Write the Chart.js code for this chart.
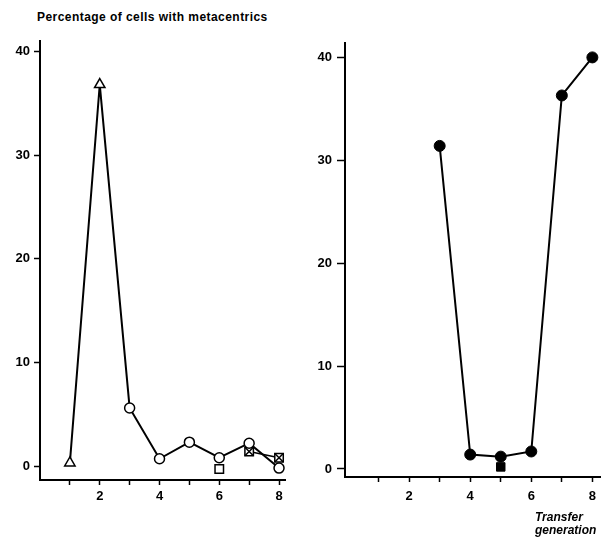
<!DOCTYPE html>
<html>
<head>
<meta charset="utf-8">
<script src="https://cdn.jsdelivr.net/npm/chart.js@4"></script>
<style>
  body { margin: 0; background: #fff; }
  #wrap { position: relative; width: 607px; height: 542px; overflow: hidden; }
  #left { position: absolute; left: 0; top: 0; }
  #right { position: absolute; left: 300px; top: 0; }
  #title { position: absolute; left: 37px; top: 10px; font: bold 12px "Liberation Sans", Arial, sans-serif; letter-spacing: 0.45px; color: #000; }
  #xname { position: absolute; left: 535px; top: 511px; font: italic bold 12px "Liberation Sans", Arial, sans-serif; line-height: 13px; color: #000; }
</style>
</head>
<body>
<div id="wrap">
  <div id="title">Percentage of cells with metacentrics</div>
  <canvas id="left" width="300" height="542"></canvas>
  <canvas id="right" width="307" height="542"></canvas>
  <div id="xname">Transfer<br>generation</div>
</div>
<script>
// transfer generations on the x axis
const xTicks = [1, 2, 3, 4, 5, 6, 7, 8];
const xLabels = ['', '2', '', '4', '', '6', '', '8'];
const yTicks = [0, 10, 20, 30, 40];

// left panel
const leftMainX = [1, 2, 3, 4, 5, 6, 7, 8];
const leftMainY = [0.3, 36.8, 5.6, 0.7, 2.3, 0.8, 2.2, -0.2];
const leftMainStyle = ['triangle', 'triangle', 'circle', 'circle', 'circle', 'circle', 'circle', 'circle'];
const leftSquareX = [6];
const leftSquareY = [-0.3];
const leftCrossX = [7, 8];
const leftCrossY = [1.4, 0.8];

// right panel
const rightX = [3, 4, 5, 6, 7, 8];
const rightY = [31.4, 1.4, 1.2, 1.7, 36.3, 40];
const rightSquareX = [5];
const rightSquareY = [0.2];

const pts = (xs, ys) => xs.map((x, i) => ({ x: x, y: ys[i] }));
const tickFont = { family: '"Liberation Sans", Arial, sans-serif', size: 13, weight: 'bold' };

function scales(o) {
  return {
    x: {
      type: 'linear', min: o.xmin, max: o.xmax,
      afterBuildTicks: s => { s.ticks = xTicks.map(v => ({ value: v })); },
      afterFit: s => { s.height = o.xh; },
      ticks: { color: '#000', font: tickFont, padding: o.xpad, maxRotation: 0, autoSkip: false,
        callback: v => xLabels[xTicks.indexOf(v)] },
      grid: { drawOnChartArea: false, tickLength: 5, tickColor: '#000', tickWidth: 1.5 },
      border: { color: '#000', width: 2 }
    },
    y: {
      min: o.ymin, max: o.ymax,
      afterBuildTicks: s => { s.ticks = yTicks.map(v => ({ value: v })); },
      afterFit: s => { s.width = o.yw; },
      ticks: { color: '#000', font: tickFont, padding: o.ypad },
      grid: { drawOnChartArea: false, tickLength: o.ytick, tickColor: '#000', tickWidth: 1.5 },
      border: { color: '#000', width: 2 }
    }
  };
}

const common = {
  responsive: false,
  animation: false,
  plugins: { legend: { display: false }, tooltip: { enabled: false }, title: { display: false } }
};

new Chart(document.getElementById('left'), {
  type: 'scatter',
  data: {
    datasets: [
      { data: pts(leftMainX, leftMainY), showLine: true, borderColor: '#000', borderWidth: 2,
        pointStyle: leftMainStyle, pointRadius: [6, 6, 5, 5, 5, 5, 5, 5],
        pointBackgroundColor: '#fff', pointBorderColor: '#000', pointBorderWidth: 1.5, clip: false },
      { data: pts(leftSquareX, leftSquareY), showLine: false, pointStyle: 'rect', pointRadius: 6,
        pointBackgroundColor: '#fff', pointBorderColor: '#000', pointBorderWidth: 1.5, clip: false },
      // the cross is listed before its square so it is drawn on top of it
      { data: pts(leftCrossX, leftCrossY), showLine: false, pointStyle: 'crossRot', pointRadius: 6,
        pointBorderColor: '#000', pointBorderWidth: 1.5, clip: false },
      { data: pts(leftCrossX, leftCrossY), showLine: true, borderColor: '#000', borderWidth: 1.5,
        pointStyle: 'rect', pointRadius: 6,
        pointBackgroundColor: '#fff', pointBorderColor: '#000', pointBorderWidth: 1.5, clip: false }
    ]
  },
  options: Object.assign({}, common, {
    layout: { padding: { top: 41, right: 15, bottom: 20, left: 0 } },
    scales: scales({ xmin: 0, xmax: 8.2, ymin: -1.35, ymax: 41, xh: 42, yw: 40, xpad: 4, ypad: 4, ytick: 6 })
  })
});

new Chart(document.getElementById('right'), {
  type: 'scatter',
  data: {
    datasets: [
      { data: pts(rightX, rightY), showLine: true, borderColor: '#000', borderWidth: 2,
        pointStyle: 'circle', pointRadius: 5.5,
        pointBackgroundColor: '#000', pointBorderColor: '#000', pointBorderWidth: 1, clip: false },
      { data: pts(rightSquareX, rightSquareY), showLine: false, pointStyle: 'rect', pointRadius: 6,
        pointBackgroundColor: '#000', pointBorderColor: '#000', pointBorderWidth: 1, clip: false }
    ]
  },
  options: Object.assign({}, common, {
    layout: { padding: { top: 43, right: 1, bottom: 2, left: 0 } },
    scales: scales({ xmin: -0.1, xmax: 8.25, ymin: -0.78, ymax: 41.4, xh: 63, yw: 45, xpad: 7, ypad: 5, ytick: 8 })
  })
});
</script>
</body>
</html>
